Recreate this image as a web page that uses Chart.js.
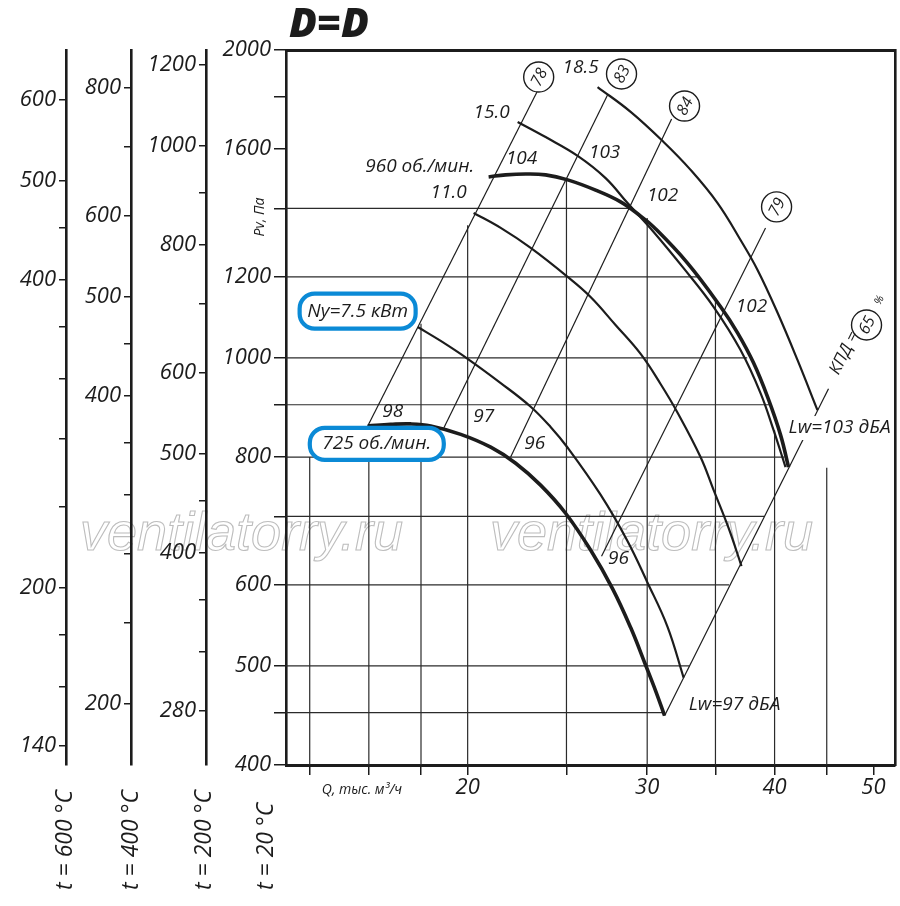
<!DOCTYPE html>
<html><head><meta charset="utf-8">
<script src="https://cdn.jsdelivr.net/npm/chart.js@4.4.0/dist/chart.umd.min.js"></script>
<style>html,body{margin:0;padding:0;background:#fff;}canvas{display:block;}</style>
</head><body>
<canvas id="c" width="900" height="906"></canvas>
<script>
// ---------- data (Q in thousand m3/h, Pv in Pa) ----------
const q725 = [15.96,16.81,17.59,18.40,19.69,21.07,22.29,23.58,24.95,26.40,27.74,28.90,29.89,30.57,31.20];
const p725 = [858,861,862,858,842,818,789,751,705,649,595,545,501,473,447];
const q960 = [20.97,21.79,22.80,23.85,25.07,26.70,28.25,29.56,30.44,32.86,35.41,36.79,38.14,39.37,40.54,41.28];
const p960 = [1503,1510,1513,1510,1493,1459,1421,1376,1343,1238,1122,1058,989,916,841,782];
const qN185 = [26.82,28.90,31.13,33.09,35.17,37.04,38.49,40.27,42.13,44.07];
const pN185 = [1840,1740,1626,1527,1417,1304,1219,1107,995,889];
const qN150 = [22.39,23.85,25.64,27.31,28.70,30.44,32.57,34.85,37.04,38.75,39.91,41.00];
const pN150 = [1701,1644,1576,1499,1417,1328,1224,1122,1018,924,850,782];
const qN110 = [20.27,21.55,23.06,25.07,26.40,27.93,29.56,30.92,32.13,33.84,34.85,36.05,37.12];
const pN110 = [1386,1340,1281,1200,1147,1077,1009,943,884,800,743,682,626];
const qN75 = [17.87,18.82,20.0,21.55,23.06,24.12,25.07,27.00,28.70,30.0,31.41,32.57];
const pN75 = [1072,1039,998,945,896,856,817,735,662,604,546,487];

// efficiency rays (КПД, %)
const effLabels = ['78','83','84','79','65'];
const effTopQ = [23.55,27.43,31.70,39.19,45.18];
const effTopP = [1844,1807,1712,1340,933];
const effBotQ = [15.96,18.95,22.04,27.06,31.20];
const effBotP = [858,854,800,640,447];
const effCircleQ = [23.48,28.31,32.64,40.18,49.23];
const effCircleP = [1882,1895,1763,1405,1077];

// grid segments
const gridQ = [14,16,18,20,25,30,35,40,45];
const gridQTopP = [800,858,1080,1348,1493,1370,1140,850,781];
const gridP = [1400,1200,1000,900,800,700,600,500,450];
const gridPEndQ = [29.0,33.7,37.6,39.6,40.9,39.1,36.1,33.0,31.2];

// axis ticks
const qTicks = [14,16,18,20,25,30,35,40,45,50];
const qLabels = [20,30,40,50];
const pTicks = [400,450,500,600,700,800,900,1000,1200,1400,1600,1800,2000];
const pLabels = [400,500,600,800,1000,1200,1600,2000];
const t200Ticks = [280,320,360,400,450,500,600,700,800,900,1000,1200];
const t200Labels = [280,400,500,600,800,1000,1200];
const t400Ticks = [200,240,280,320,360,400,450,500,600,700,800];
const t400Labels = [200,400,500,600,800];
const t600Ticks = [140,160,180,200,240,280,320,360,400,450,500,600];
const t600Labels = [140,200,400,500,600];

// text notes
const noteText = ['15.0','18.5','960 об./мин.','11.0','104','103','102','102','98','97','96','96'];
const noteQ = [21.11,25.81,17.95,19.16,22.59,27.25,31.06,37.97,16.89,20.74,23.27,28.12];
const noteP = [1736,1921,1537,1450,1565,1586,1440,1122,886,876,824,636];

// ---------- chart ----------
const QMIN = 13.27, QMAX = 52.5, PMIN = 400, PMAX = 2000;
const INK = '#1c1c1c';
const FONT = '"Open Sans", "DejaVu Sans", sans-serif';
const zip = (qs, ps) => qs.map((q, i) => ({x: q, y: ps[i]}));

const datasets = [];
gridQ.forEach((q, i) => datasets.push({data: [{x: q, y: PMIN}, {x: q, y: gridQTopP[i]}], borderColor: '#2b2b2b', borderWidth: 1.2, tension: 0, order: 50}));
gridP.forEach((p, i) => datasets.push({data: [{x: QMIN, y: p}, {x: gridPEndQ[i], y: p}], borderColor: '#2b2b2b', borderWidth: 1.2, tension: 0, order: 50}));
effLabels.forEach((l, i) => datasets.push({data: [{x: effBotQ[i], y: effBotP[i]}, {x: effTopQ[i], y: effTopP[i]}], borderColor: INK, borderWidth: 1.2, tension: 0, order: 40}));
[[qN185, pN185], [qN150, pN150], [qN110, pN110], [qN75, pN75]].forEach(c => datasets.push({data: zip(c[0], c[1]), borderColor: INK, borderWidth: 2.2, tension: 0.4, order: 30}));
[[q725, p725], [q960, p960]].forEach(c => datasets.push({data: zip(c[0], c[1]), borderColor: INK, borderWidth: 3.6, tension: 0.4, order: 20}));
datasets.push({data: zip(effCircleQ, effCircleP), showLine: false, pointRadius: 15, pointBackgroundColor: '#fff', pointBorderColor: INK, pointBorderWidth: 1.4, order: 5});

const tickFont = {family: FONT, size: 22, style: 'italic'};
function sideAxis(ticksArr, labelsArr, min, max, width, weight, tl) {
  return {
    type: 'logarithmic', position: 'left', min: min, max: max, weight: weight,
    afterBuildTicks: s => { s.ticks = ticksArr.map(v => ({value: v})); },
    afterFit: s => { s.width = width; },
    ticks: {autoSkip: false, font: tickFont, color: INK, padding: 3, callback: v => labelsArr.includes(v) ? String(v) : ''},
    grid: {drawOnChartArea: false, drawTicks: true, tickLength: tl, color: INK, lineWidth: 1.5},
    border: {display: true, width: 2.6, color: INK}
  };
}

const notesPlugin = {
  id: 'notes',
  beforeDraw(chart) {
    const ctx = chart.ctx;
    ctx.save();
    ctx.fillStyle = '#fff';
    ctx.fillRect(0, 0, chart.width, chart.height);
    ctx.font = 'italic 54px "Liberation Sans", Arial, sans-serif';
    ctx.strokeStyle = '#bdbdbd';
    ctx.lineWidth = 1.1;
    ctx.textAlign = 'left';
    ctx.textBaseline = 'alphabetic';
    ctx.strokeText('ventilatorry.ru', 80, 550);
    ctx.strokeText('ventilatorry.ru', 490, 550);
    ctx.restore();
  },
  afterDraw(chart) {
    const ctx = chart.ctx;
    const X = v => chart.scales.x.getPixelForValue(v);
    const Y = v => chart.scales.y.getPixelForValue(v);
    const ang = -Math.atan(2);
    ctx.save();
    ctx.fillStyle = INK;
    ctx.textAlign = 'center';
    ctx.textBaseline = 'middle';
    ctx.font = 'italic 19px ' + FONT;
    noteText.forEach((t, i) => ctx.fillText(t, X(noteQ[i]), Y(noteP[i])));

    // circled efficiency numbers
    ctx.font = 'italic 16px ' + FONT;
    effLabels.forEach((t, i) => {
      ctx.save();
      ctx.translate(X(effCircleQ[i]), Y(effCircleP[i]));
      ctx.rotate(ang);
      ctx.fillText(t, 0, 1);
      ctx.restore();
    });
    // КПД = and %
    ctx.save();
    ctx.translate(X(46.84), Y(1011));
    ctx.rotate(ang);
    ctx.font = 'italic 17px ' + FONT;
    ctx.fillText('КПД =', 0, 0);
    ctx.restore();
    ctx.save();
    ctx.translate(X(50.69), Y(1139));
    ctx.rotate(ang);
    ctx.font = 'italic 11px ' + FONT;
    ctx.fillText('%', 0, 0);
    ctx.restore();

    // Lw labels
    ctx.font = 'italic 19px ' + FONT;
    let x = X(46.32), y = Y(854);
    let w = ctx.measureText('Lw=103 дБА').width;
    ctx.fillStyle = '#fff';
    ctx.fillRect(x - w / 2 - 2, y - 12, w + 4, 24);
    ctx.fillStyle = INK;
    ctx.fillText('Lw=103 дБА', x, y);
    ctx.fillText('Lw=97 дБА', X(36.54), Y(458));

    // blue boxes
    const boxes = [{t: 'Ny=7.5 кВт', q: 15.60, p: 1111, w: 116, h: 35}, {t: '725 об./мин.', q: 16.29, p: 824, w: 134, h: 32}];
    boxes.forEach(b => {
      const bx = X(b.q), by = Y(b.p);
      ctx.beginPath();
      ctx.roundRect(bx - b.w / 2, by - b.h / 2, b.w, b.h, 15);
      ctx.fillStyle = '#fff';
      ctx.fill();
      ctx.lineWidth = 4.2;
      ctx.strokeStyle = '#0b8ad6';
      ctx.stroke();
      ctx.fillStyle = INK;
      ctx.fillText(b.t, bx, by);
    });

    // title and axis captions
    ctx.textAlign = 'left';
    ctx.textBaseline = 'alphabetic';
    ctx.font = 'italic 800 41px ' + FONT;
    ctx.fillText('D=D', 289, 37);

    ctx.font = 'italic 14px ' + FONT;
    ctx.textAlign = 'center';
    ctx.textBaseline = 'middle';
    ctx.fillText('Q, тыс. м³/ч', 362, 790);
    ctx.save();
    ctx.translate(260, 217);
    ctx.rotate(-Math.PI / 2);
    ctx.fillText('Pv, Па', 0, 0);
    ctx.restore();

    ctx.font = 'italic 23px ' + FONT;
    ctx.textAlign = 'left';
    [['t = 600 °C', 65], ['t = 400 °C', 131], ['t = 200 °C', 204], ['t = 20 °C', 266]].forEach(a => {
      ctx.save();
      ctx.translate(a[1], 890);
      ctx.rotate(-Math.PI / 2);
      ctx.fillText(a[0], 0, 0);
      ctx.restore();
    });
    ctx.restore();
  }
};

new Chart(document.getElementById('c'), {
  type: 'line',
  data: {datasets: datasets},
  options: {
    responsive: false, animation: false, events: [],
    layout: {autoPadding: false, padding: {top: 50, right: 5, bottom: 0, left: 0}},
    elements: {point: {radius: 0}, line: {borderCapStyle: 'butt'}},
    plugins: {legend: {display: false}, tooltip: {enabled: false}, title: {display: false}},
    scales: {
      x: {
        type: 'logarithmic', position: 'bottom', min: QMIN, max: QMAX,
        afterBuildTicks: s => { s.ticks = qTicks.map(v => ({value: v})); },
        afterFit: s => { s.height = 141; s.paddingLeft = 0; s.paddingRight = 0; },
        ticks: {autoSkip: false, maxRotation: 0, minRotation: 0, font: tickFont, color: INK, padding: 0, callback: v => qLabels.includes(v) ? String(v) : ''},
        grid: {drawOnChartArea: false, drawTicks: true, tickLength: 10, color: INK, lineWidth: 1.5},
        border: {display: true, width: 3, color: INK}
      },
      xTop: {
        type: 'logarithmic', position: 'top', min: QMIN, max: QMAX,
        afterFit: s => { s.height = 0; s.paddingLeft = 0; s.paddingRight = 0; },
        ticks: {display: false}, grid: {display: false},
        border: {display: true, width: 3, color: INK}
      },
      yRight: {
        type: 'logarithmic', position: 'right', min: PMIN, max: PMAX,
        afterFit: s => { s.width = 0; },
        ticks: {display: false}, grid: {display: false},
        border: {display: true, width: 2.6, color: INK}
      },
      y: sideAxis(pTicks, pLabels, PMIN, PMAX, 80, 0, 12),
      t200: sideAxis(t200Ticks, t200Labels, 248, 1240, 75, 1, 7),
      t400: sideAxis(t400Ticks, t400Labels, 174.2, 870.8, 65, 2, 7),
      t600: sideAxis(t600Ticks, t600Labels, 134.2, 671.2, 66, 3, 7)
    }
  },
  plugins: [notesPlugin]
});
</script>
</body></html>
